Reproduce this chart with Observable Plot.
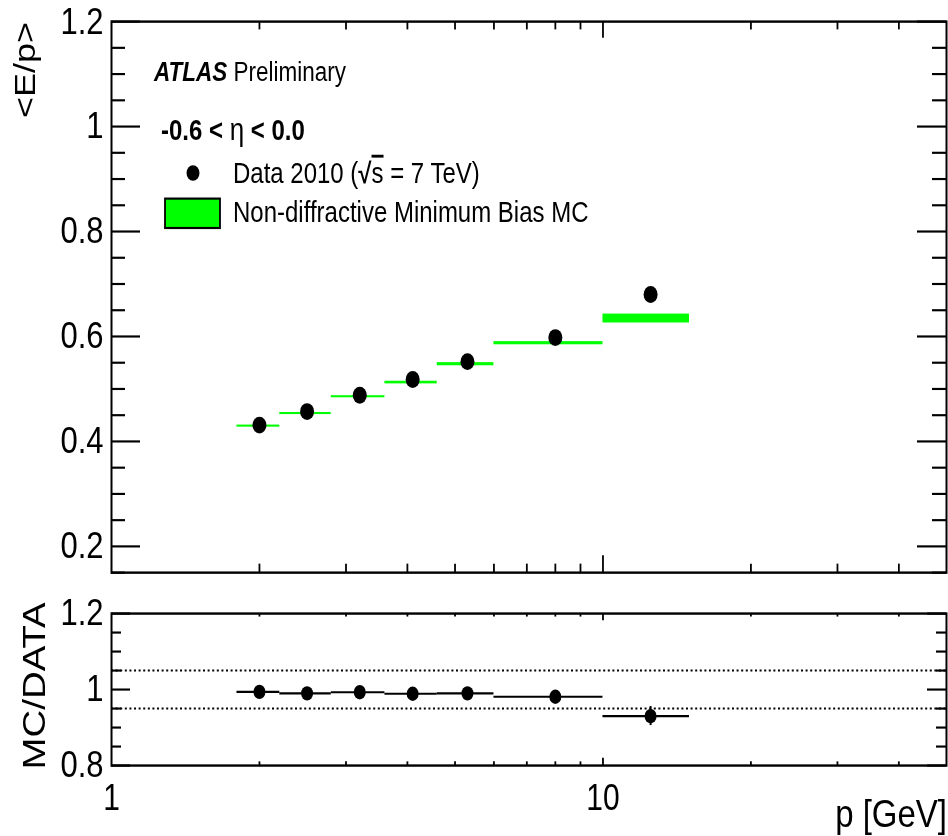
<!DOCTYPE html>
<html>
<head>
<meta charset="utf-8">
<script src="https://cdn.jsdelivr.net/npm/d3@7"></script>
<script src="https://cdn.jsdelivr.net/npm/@observablehq/plot@0.6"></script>
<style>
  html, body { margin: 0; padding: 0; background: #fff; }
  #stage {
    position: absolute; left: 0; top: 0; width: 948px; height: 696.667px;
    transform: scaleY(1.2); transform-origin: 0 0;
    font-family: "Liberation Sans", Arial, Helvetica, sans-serif;
  }
  #stage svg { position: absolute; left: 0; overflow: visible; background: transparent; max-width: none; }
</style>
</head>
<body>
<div id="stage"></div>
<script>
// ---------------- data ----------------
const pLow    = [1.8, 2.2, 2.8, 3.6, 4.6, 6.0, 10.0];
const pHigh   = [2.2, 2.8, 3.6, 4.6, 6.0, 10.0, 15.0];
const pCenter = [2.0, 2.5, 3.2, 4.1, 5.3, 8.0, 12.5];
const dataEp    = [0.431, 0.457, 0.488, 0.518, 0.552, 0.598, 0.680];
const dataEpErr = [0.002, 0.002, 0.002, 0.002, 0.003, 0.003, 0.006];
const mcEp      = [0.429, 0.453, 0.485, 0.512, 0.547, 0.587, 0.634];
const mcEpErr   = [0.002, 0.002, 0.002, 0.0025, 0.003, 0.003, 0.0085];
const ratioMcData    = [0.994, 0.990, 0.993, 0.989, 0.990, 0.981, 0.930];
const ratioMcDataErr = [0.003, 0.003, 0.003, 0.003, 0.003, 0.004, 0.025];
const ratioBand = [0.95, 1.05];

const topYMajor = [0.2, 0.4, 0.6, 0.8, 1, 1.2];
const topYMinor = [0.15, 0.25, 0.3, 0.35, 0.45, 0.5, 0.55, 0.65, 0.7, 0.75, 0.85, 0.9, 0.95, 1.05, 1.1, 1.15];
const botYMajor = [0.8, 1, 1.2];
const botYMinor = [0.85, 0.9, 0.95, 1.05, 1.1, 1.15];
const xMajor = [10];
const xMinor = [2, 3, 4, 5, 6, 7, 8, 9, 20, 30, 40];
const xLabels = [1, 10];
const xDomain = [1, 50];

// ---------------- layout (pre-stretch coordinates; stage is stretched 1.2x vertically) ----------------
const FONT = '"Liberation Sans", Arial, Helvetica, sans-serif';
const W = 948, ML = 111, MR = 2;
const innerW = W - ML - MR;
const topH = 495, topMT = 17.5, topMB = 18.3;
const topInnerH = topH - topMT - topMB;
const botH = 836 / 1.2 - topH, botMT = 15.8, botMB = 59.2;
const botInnerH = botH - botMT - botMB;

const bins = pLow.map((lo, i) => ({
  lo, hi: pHigh[i], p: pCenter[i],
  data: dataEp[i], dataErr: dataEpErr[i],
  mc: mcEp[i], mcErr: mcEpErr[i],
  ratio: ratioMcData[i], ratioErr: ratioMcDataErr[i]
}));

function frameTicks(innerH, yMaj, yMin, yMajLen, yMinLen, xMajLen, xMinLen) {
  const s = {stroke: "black", strokeWidth: 1.8};
  return [
    Plot.tickY(yMaj, {y: d => d, insetRight: innerW - yMajLen, ...s}),
    Plot.tickY(yMin, {y: d => d, insetRight: innerW - yMinLen, ...s}),
    Plot.tickY(yMaj, {y: d => d, insetLeft: innerW - yMajLen, ...s}),
    Plot.tickY(yMin, {y: d => d, insetLeft: innerW - yMinLen, ...s}),
    Plot.tickX(xMajor, {x: d => d, insetTop: innerH - xMajLen, ...s}),
    Plot.tickX(xMinor, {x: d => d, insetTop: innerH - xMinLen, ...s}),
    Plot.tickX(xMajor, {x: d => d, insetBottom: innerH - xMajLen, ...s}),
    Plot.tickX(xMinor, {x: d => d, insetBottom: innerH - xMinLen, ...s})
  ];
}

const stage = document.getElementById("stage");

// ---------------- top panel ----------------
const topPlot = Plot.plot({
  width: W, height: topH,
  marginLeft: ML, marginRight: MR, marginTop: topMT, marginBottom: topMB,
  style: {fontFamily: FONT, background: "transparent", overflow: "visible"},
  x: {type: "log", domain: xDomain, axis: null},
  y: {domain: [0.15, 1.2], label: null},
  marks: [
    Plot.rect(bins, {x1: "lo", x2: "hi", y1: d => d.mc - d.mcErr, y2: d => d.mc + d.mcErr, fill: "#00ff00"}),
    Plot.ruleX(bins, {x: "p", y1: d => d.data - d.dataErr, y2: d => d.data + d.dataErr, stroke: "black", strokeWidth: 2}),
    Plot.dot(bins, {x: "p", y: "data", r: 7, fill: "black", stroke: "none"}),
    ...frameTicks(topInnerH, topYMajor, topYMinor, 29, 14, 14, 7),
    Plot.axisY({ticks: topYMajor, tickSize: 0, tickPadding: 8, tickFormat: d => String(d), fontSize: 31, label: null, fill: "black"}),
    Plot.frame({stroke: "black", strokeWidth: 2})
  ]
});
topPlot.style.top = "0px";
stage.appendChild(topPlot);

// ---------------- ratio panel ----------------
const botPlot = Plot.plot({
  width: W, height: botH,
  marginLeft: ML, marginRight: MR, marginTop: botMT, marginBottom: botMB,
  style: {fontFamily: FONT, background: "transparent", overflow: "visible"},
  x: {type: "log", domain: xDomain, label: null},
  y: {domain: [0.8, 1.2], label: null},
  marks: [
    Plot.ruleY(ratioBand, {y: d => d, stroke: "black", strokeWidth: 1.7, strokeDasharray: "2,2.6"}),
    Plot.ruleY(bins, {x1: "lo", x2: "hi", y: "ratio", stroke: "black", strokeWidth: 1.8}),
    Plot.ruleX(bins, {x: "p", y1: d => d.ratio - d.ratioErr, y2: d => d.ratio + d.ratioErr, stroke: "black", strokeWidth: 2}),
    Plot.dot(bins, {x: "p", y: "ratio", r: 6, fill: "black", stroke: "none"}),
    ...frameTicks(botInnerH, botYMajor, botYMinor, 19, 10, 6, 3),
    Plot.axisY({ticks: botYMajor, tickSize: 0, tickPadding: 8, tickFormat: d => String(d), fontSize: 31, label: null, fill: "black"}),
    Plot.axisX({ticks: xLabels, tickSize: 0, tickPadding: 16, tickFormat: d => String(d), fontSize: 30, label: null, fill: "black"}),
    Plot.frame({stroke: "black", strokeWidth: 2})
  ]
});
botPlot.style.top = topH + "px";
stage.appendChild(botPlot);

// ---------------- titles & legend ----------------
const ov = d3.select(stage).append("svg")
  .attr("width", W).attr("height", 836 / 1.2)
  .style("top", "0px")
  .style("font-family", FONT)
  .style("pointer-events", "none");

const atlas = ov.append("text").attr("x", 154).attr("y", 67.5).attr("font-size", 22.5).attr("fill", "black");
atlas.append("tspan").attr("font-weight", "bold").attr("font-style", "italic").text("ATLAS");
atlas.append("tspan").text(" Preliminary");

const eta = ov.append("text").attr("x", 161).attr("y", 116.7).attr("font-size", 24).attr("font-weight", "bold");
eta.append("tspan").text("-0.6 < ");
eta.append("tspan").attr("font-weight", "normal").attr("font-size", 26).text("η");
eta.append("tspan").text(" < 0.0");

ov.append("circle").attr("cx", 193).attr("cy", 144.2).attr("r", 6.5).attr("fill", "black");
const dl = ov.append("text").attr("x", 233).attr("y", 152.5).attr("font-size", 24);
dl.append("tspan").text("Data 2010 (");
dl.append("tspan").attr("font-weight", "bold").text("√");
dl.append("tspan").style("text-decoration", "overline").text("s");
dl.append("tspan").text(" = 7 TeV)");

ov.append("rect").attr("x", 165).attr("y", 165.5).attr("width", 55).attr("height", 24.5)
  .attr("fill", "#00ff00").attr("stroke", "black").attr("stroke-width", 1.8);
ov.append("text").attr("x", 233).attr("y", 185).attr("font-size", 24).text("Non-diffractive Minimum Bias MC");

ov.append("text").attr("transform", "translate(35,18.3) rotate(-90)")
  .attr("text-anchor", "end").attr("font-size", 30).text("<E/p>");
ov.append("text").attr("transform", "translate(45,502) rotate(-90)")
  .attr("text-anchor", "end").attr("font-size", 32).text("MC/DATA");
ov.append("text").attr("x", 947).attr("y", 689).attr("text-anchor", "end")
  .attr("font-size", 33).text("p [GeV]");
</script>
</body>
</html>
